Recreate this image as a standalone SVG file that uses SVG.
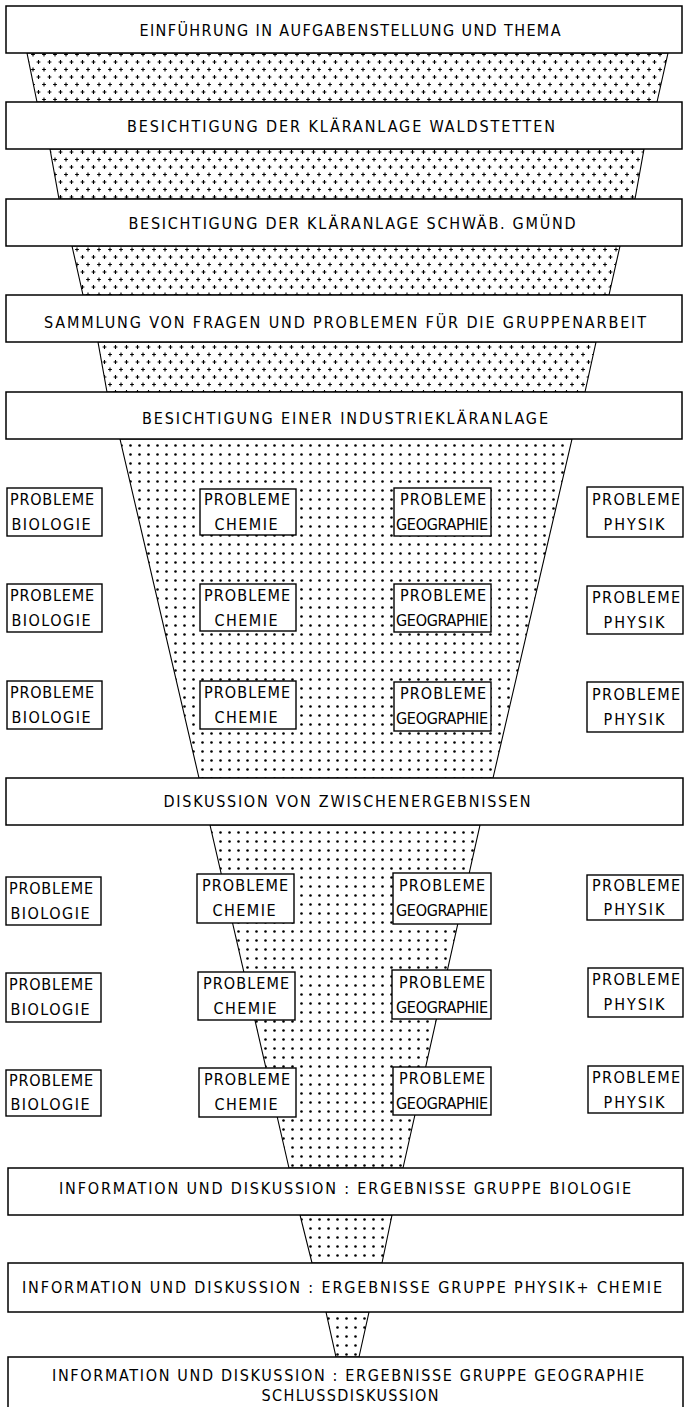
<svg xmlns="http://www.w3.org/2000/svg" width="684" height="1407" viewBox="0 0 684 1407">
<defs>
<pattern id="plus" width="11" height="15" patternUnits="userSpaceOnUse">
<path d="M3.6 2h3.8M5.5 0.1v3.8M-1.9 9.5h3.8M0 7.6v3.8M9.1 9.5h3.8M11 7.6v3.8" stroke="#000" stroke-width="1.1"/>
</pattern>
<pattern id="dots" width="9" height="9" patternUnits="userSpaceOnUse">
<circle cx="4.5" cy="4.5" r="1.3" fill="#000"/>
</pattern>
</defs>
<style>
.box{fill:#fff;stroke:#000;stroke-width:1.5}
.sb{fill:#fff;stroke:#000;stroke-width:1.4}
.tp{fill:url(#plus);stroke:#000;stroke-width:1.1}
.td{fill:url(#dots);stroke:#000;stroke-width:1.1}
.t,.s{font-family:"DejaVu Sans Condensed","DejaVu Sans",sans-serif;font-stretch:condensed;font-size:16px;fill:#000;text-anchor:middle}
</style>
<rect width="684" height="1407" fill="#fff"/>
<g id="connectors">
<polygon class="tp" points="27,53 668,53 657,102 37,102"/>
<polygon class="tp" points="50,149 644,149 635,199 59,199"/>
<polygon class="tp" points="72,246 620,246 609,295 83,295"/>
<polygon class="tp" points="98,342 596,342 585,392 107,392"/>
<polygon class="td" points="120,439 572,439 493,778 199,778"/>
<polygon class="td" points="210,825 480,825 403,1168 289,1168"/>
<polygon class="td" points="300,1215 392,1215 382,1263 312,1263"/>
<polygon class="td" points="326,1312 369,1312 359,1357 336,1357"/>
</g>
<g id="n1"><rect class="box" x="6" y="6" width="676" height="47"/><text class="t" x="350" y="36" textLength="421" lengthAdjust="spacing">EINFÜHRUNG IN AUFGABENSTELLUNG  UND  THEMA</text></g>
<g id="n2"><rect class="box" x="6" y="102" width="676" height="47"/><text class="t" x="341" y="132" textLength="428" lengthAdjust="spacing">BESICHTIGUNG  DER  KLÄRANLAGE  WALDSTETTEN</text></g>
<g id="n3"><rect class="box" x="6" y="199" width="676" height="47"/><text class="t" x="352" y="229" textLength="447" lengthAdjust="spacing">BESICHTIGUNG  DER  KLÄRANLAGE  SCHWÄB. GMÜND</text></g>
<g id="n4"><rect class="box" x="6" y="295" width="676" height="47"/><text class="t" x="345" y="328" textLength="602" lengthAdjust="spacing">SAMMLUNG  VON  FRAGEN  UND  PROBLEMEN  FÜR  DIE  GRUPPENARBEIT</text></g>
<g id="n5"><rect class="box" x="6" y="392" width="676" height="47"/><text class="t" x="345" y="424" textLength="406" lengthAdjust="spacing">BESICHTIGUNG  EINER  INDUSTRIEKLÄRANLAGE</text></g>

<g id="r1bio"><rect class="sb" x="7" y="488" width="95" height="48"/><text class="s" x="52" y="505" textLength="84" lengthAdjust="spacing">PROBLEME</text><text class="s" x="51" y="530" textLength="79" lengthAdjust="spacing">BIOLOGIE</text></g>
<g id="r1che"><rect class="sb" x="200" y="489" width="96" height="46"/><text class="s" x="247" y="505" textLength="86" lengthAdjust="spacing">PROBLEME</text><text class="s" x="246" y="530" textLength="63" lengthAdjust="spacing">CHEMIE</text></g>
<g id="r1geo"><rect class="sb" x="394" y="488" width="97" height="48"/><text class="s" x="443" y="505" textLength="86" lengthAdjust="spacing">PROBLEME</text><text class="s" x="442" y="530" textLength="92" lengthAdjust="spacing">GEOGRAPHIE</text></g>
<g id="r1phy"><rect class="sb" x="587" y="487" width="96" height="50"/><text class="s" x="636" y="505" textLength="88" lengthAdjust="spacing">PROBLEME</text><text class="s" x="634" y="530" textLength="61" lengthAdjust="spacing">PHYSIK</text></g>

<g id="r2bio"><rect class="sb" x="7" y="584" width="95" height="48"/><text class="s" x="52" y="601" textLength="84" lengthAdjust="spacing">PROBLEME</text><text class="s" x="51" y="626" textLength="79" lengthAdjust="spacing">BIOLOGIE</text></g>
<g id="r2che"><rect class="sb" x="200" y="584" width="96" height="47"/><text class="s" x="247" y="601" textLength="86" lengthAdjust="spacing">PROBLEME</text><text class="s" x="246" y="626" textLength="63" lengthAdjust="spacing">CHEMIE</text></g>
<g id="r2geo"><rect class="sb" x="394" y="584" width="97" height="48"/><text class="s" x="443" y="601" textLength="86" lengthAdjust="spacing">PROBLEME</text><text class="s" x="442" y="626" textLength="92" lengthAdjust="spacing">GEOGRAPHIE</text></g>
<g id="r2phy"><rect class="sb" x="587" y="586" width="96" height="48"/><text class="s" x="636" y="603" textLength="88" lengthAdjust="spacing">PROBLEME</text><text class="s" x="634" y="628" textLength="61" lengthAdjust="spacing">PHYSIK</text></g>

<g id="r3bio"><rect class="sb" x="7" y="681" width="95" height="48"/><text class="s" x="52" y="698" textLength="84" lengthAdjust="spacing">PROBLEME</text><text class="s" x="51" y="723" textLength="79" lengthAdjust="spacing">BIOLOGIE</text></g>
<g id="r3che"><rect class="sb" x="200" y="681" width="96" height="48"/><text class="s" x="247" y="698" textLength="86" lengthAdjust="spacing">PROBLEME</text><text class="s" x="246" y="723" textLength="63" lengthAdjust="spacing">CHEMIE</text></g>
<g id="r3geo"><rect class="sb" x="394" y="682" width="97" height="49"/><text class="s" x="443" y="699" textLength="86" lengthAdjust="spacing">PROBLEME</text><text class="s" x="442" y="724" textLength="92" lengthAdjust="spacing">GEOGRAPHIE</text></g>
<g id="r3phy"><rect class="sb" x="587" y="682" width="96" height="50"/><text class="s" x="636" y="700" textLength="88" lengthAdjust="spacing">PROBLEME</text><text class="s" x="634" y="725" textLength="61" lengthAdjust="spacing">PHYSIK</text></g>

<g id="n6"><rect class="box" x="6" y="778" width="677" height="47"/><text class="t" x="347" y="807" textLength="367" lengthAdjust="spacing">DISKUSSION  VON  ZWISCHENERGEBNISSEN</text></g>

<g id="r4bio"><rect class="sb" x="6" y="877" width="95" height="48"/><text class="s" x="51" y="894" textLength="84" lengthAdjust="spacing">PROBLEME</text><text class="s" x="50" y="919" textLength="79" lengthAdjust="spacing">BIOLOGIE</text></g>
<g id="r4che"><rect class="sb" x="197" y="874" width="97" height="49"/><text class="s" x="245" y="891" textLength="86" lengthAdjust="spacing">PROBLEME</text><text class="s" x="244" y="916" textLength="63" lengthAdjust="spacing">CHEMIE</text></g>
<g id="r4geo"><rect class="sb" x="393" y="873" width="98" height="51"/><text class="s" x="442" y="891" textLength="86" lengthAdjust="spacing">PROBLEME</text><text class="s" x="442" y="916" textLength="92" lengthAdjust="spacing">GEOGRAPHIE</text></g>
<g id="r4phy"><rect class="sb" x="587" y="875" width="96" height="45"/><text class="s" x="636" y="891" textLength="88" lengthAdjust="spacing">PROBLEME</text><text class="s" x="634" y="915" textLength="61" lengthAdjust="spacing">PHYSIK</text></g>

<g id="r5bio"><rect class="sb" x="6" y="973" width="95" height="49"/><text class="s" x="51" y="990" textLength="84" lengthAdjust="spacing">PROBLEME</text><text class="s" x="50" y="1015" textLength="79" lengthAdjust="spacing">BIOLOGIE</text></g>
<g id="r5che"><rect class="sb" x="198" y="972" width="97" height="48"/><text class="s" x="246" y="989" textLength="86" lengthAdjust="spacing">PROBLEME</text><text class="s" x="245" y="1014" textLength="63" lengthAdjust="spacing">CHEMIE</text></g>
<g id="r5geo"><rect class="sb" x="392" y="970" width="99" height="49"/><text class="s" x="442" y="988" textLength="86" lengthAdjust="spacing">PROBLEME</text><text class="s" x="442" y="1013" textLength="92" lengthAdjust="spacing">GEOGRAPHIE</text></g>
<g id="r5phy"><rect class="sb" x="588" y="968" width="95" height="49"/><text class="s" x="636" y="985" textLength="88" lengthAdjust="spacing">PROBLEME</text><text class="s" x="634" y="1010" textLength="61" lengthAdjust="spacing">PHYSIK</text></g>

<g id="r6bio"><rect class="sb" x="6" y="1070" width="95" height="46"/><text class="s" x="51" y="1086" textLength="84" lengthAdjust="spacing">PROBLEME</text><text class="s" x="50" y="1110" textLength="79" lengthAdjust="spacing">BIOLOGIE</text></g>
<g id="r6che"><rect class="sb" x="199" y="1068" width="97" height="49"/><text class="s" x="247" y="1085" textLength="86" lengthAdjust="spacing">PROBLEME</text><text class="s" x="246" y="1110" textLength="63" lengthAdjust="spacing">CHEMIE</text></g>
<g id="r6geo"><rect class="sb" x="393" y="1067" width="98" height="48"/><text class="s" x="442" y="1084" textLength="86" lengthAdjust="spacing">PROBLEME</text><text class="s" x="442" y="1109" textLength="92" lengthAdjust="spacing">GEOGRAPHIE</text></g>
<g id="r6phy"><rect class="sb" x="588" y="1066" width="95" height="47"/><text class="s" x="636" y="1083" textLength="88" lengthAdjust="spacing">PROBLEME</text><text class="s" x="634" y="1108" textLength="61" lengthAdjust="spacing">PHYSIK</text></g>

<g id="n7"><rect class="box" x="8" y="1168" width="675" height="47"/><text class="t" x="345" y="1194" textLength="572" lengthAdjust="spacing">INFORMATION  UND  DISKUSSION : ERGEBNISSE  GRUPPE  BIOLOGIE</text></g>
<g id="n8"><rect class="box" x="8" y="1263" width="675" height="49"/><text class="t" x="342" y="1293" textLength="640" lengthAdjust="spacing">INFORMATION  UND  DISKUSSION : ERGEBNISSE  GRUPPE  PHYSIK+ CHEMIE</text></g>
<g id="n9"><rect class="box" x="8" y="1357" width="675" height="60"/><text class="t" x="348" y="1381" textLength="592" lengthAdjust="spacing">INFORMATION  UND  DISKUSSION :  ERGEBNISSE  GRUPPE  GEOGRAPHIE</text><text class="t" x="350" y="1401" textLength="177" lengthAdjust="spacing">SCHLUSSDISKUSSION</text></g>
</svg>
